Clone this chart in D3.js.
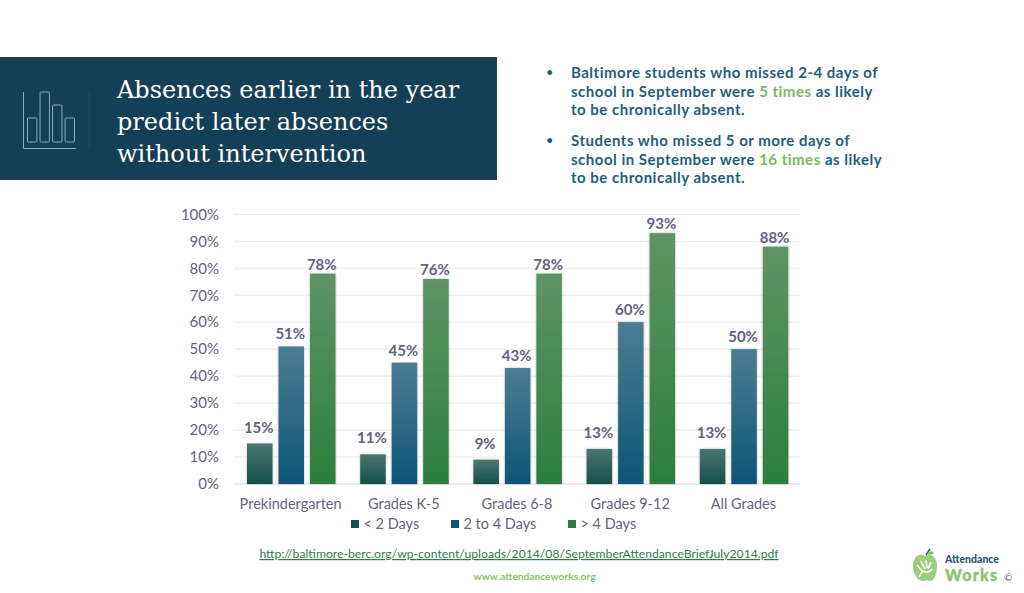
<!DOCTYPE html>
<html>
<head>
<meta charset="utf-8">
<script src="https://cdn.jsdelivr.net/npm/d3@7"></script>
<style>
html,body{margin:0;padding:0;background:#fff;}
svg{display:block;}
text{font-family:Lato,"Open Sans",sans-serif;}
</style>
</head>
<body>
<div id="grafo"></div>
<script>
var categorias = ["Prekindergarten","Grades K-5","Grades 6-8","Grades 9-12","All Grades"];
var series = ["< 2 Days","2 to 4 Days","> 4 Days"];
var menos2 = [15,11,9,13,13];
var de2a4 = [51,45,43,60,50];
var mas4 = [78,76,78,93,88];
var ticks = [0,10,20,30,40,50,60,70,80,90,100];
var titulo = ["Absences earlier in the year","predict later absences","without intervention"];
var icono = [24,50,37,24];

var valores = [menos2,de2a4,mas4];
var oscuro = ["#12504a","#0d5677","#2b7f3c"];
var claro = ["#4d7670","#4c7c94","#5f9464"];
var gris = "#66627f";

var svg = d3.select("#grafo").append("svg").attr("width",1024).attr("height",593);
var defs = svg.append("defs");

// banner
svg.append("rect").attr("x",0).attr("y",57).attr("width",497).attr("height",123).attr("fill","#133f57");
svg.append("text").attr("class","tit").selectAll("tspan").data(titulo).enter().append("tspan")
  .attr("x",117).attr("y",function(d,i){return 98+i*32;})
  .text(function(d){return d;});
svg.select(".tit").style("font-family","'DejaVu Serif',serif").style("font-size","24px").attr("fill","#fff");

// icono del banner
var ic = svg.append("g").attr("fill","none").attr("stroke","#8fa9b6").attr("stroke-width",1);
ic.append("path").attr("d","M23.5,92V148.5H76");
var xi = d3.scaleBand().domain(d3.range(icono.length)).range([27.5,74.5]).paddingInner(0.25);
var yi = d3.scaleLinear().domain([0,50]).range([142,92]);
ic.selectAll("rect").data(icono).enter().append("rect")
  .attr("x",function(d,i){return xi(i);})
  .attr("y",function(d){return yi(d);})
  .attr("width",xi.bandwidth())
  .attr("height",function(d){return yi(0)-yi(d);})
  .attr("rx",1);
svg.append("line").attr("x1",89).attr("x2",89).attr("y1",93).attr("y2",148).attr("stroke","#1d5068");

// texto a la derecha
var azul = "#1f6079", verde = "#7db665";
var bullets = [
  {y:78,l:[[["Baltimore students who missed 2-4 days of",azul]],
           [["school in September were ",azul],["5 times",verde],[" as likely",azul]],
           [["to be chronically absent.",azul]]]},
  {y:146,l:[[["Students who missed 5 or more days of",azul]],
            [["school in September were ",azul],["16 times",verde],[" as likely",azul]],
            [["to be chronically absent.",azul]]]}
];
bullets.forEach(function(b){
  svg.append("text").attr("x",546.5).attr("y",b.y-2).attr("fill",azul)
    .style("font-size","11px").style("font-weight",700).text("•");
  b.l.forEach(function(linea,i){
    var t = svg.append("text").attr("x",571).attr("y",b.y+i*18.5)
      .style("font-size","15px").style("font-weight",700).style("letter-spacing","0.5px");
    linea.forEach(function(p){
      t.append("tspan").attr("fill",p[1]).text(p[0]);
    });
  });
});

// grafico
var x0 = d3.scaleBand().domain(categorias).range([234,800]);
var x1 = d3.scaleBand().domain(d3.range(3)).range([13,101.5]).paddingInner(0.19);
var y = d3.scaleLinear().domain([0,100]).range([484,214.3]);

series.forEach(function(s,i){
  var g = defs.append("linearGradient").attr("id","gr"+i).attr("x1",0).attr("x2",0).attr("y1",0).attr("y2",1);
  g.append("stop").attr("offset","0%").attr("stop-color",claro[i]);
  g.append("stop").attr("offset","100%").attr("stop-color",oscuro[i]);
});

var sombra = defs.append("filter").attr("id","sombra").attr("x","-20%").attr("width","140%");
sombra.append("feDropShadow").attr("dx",0).attr("dy",0).attr("stdDeviation",1).attr("flood-color","#000").attr("flood-opacity",0.3);

svg.append("g").selectAll("line").data(ticks).enter().append("line")
  .attr("x1",234).attr("x2",800)
  .attr("y1",function(d){return y(d);}).attr("y2",function(d){return y(d);})
  .attr("stroke",function(d){return d==0?"#d9d9de":"#e8e8ea";}).attr("stroke-width",1);

var ejeY = svg.append("g").attr("transform","translate(219,0)")
  .call(d3.axisLeft(y).tickValues(ticks).tickSize(0).tickPadding(0).tickFormat(function(d){return d+"%";}));
ejeY.select(".domain").remove();
ejeY.selectAll("text").attr("fill",gris).style("font-size","15px").style("font-family","Lato,sans-serif");

var ejeX = svg.append("g").attr("transform","translate(0,484)")
  .call(d3.axisBottom(x0).tickSize(0).tickPadding(15));
ejeX.select(".domain").remove();
ejeX.selectAll("text").attr("fill",gris).style("font-size","14.5px").style("font-family","Lato,sans-serif");

var holgura = [11,7,4];
valores.forEach(function(v,i){
  var g = svg.append("g");
  g.selectAll("rect").data(v).enter().append("rect")
    .attr("x",function(d,j){return x0(categorias[j])+x1(i);})
    .attr("y",function(d){return y(d);})
    .attr("width",x1.bandwidth())
    .attr("height",function(d){return y(0)-y(d);})
    .attr("fill","url(#gr"+i+")")
    .attr("filter","url(#sombra)");
  g.selectAll("text").data(v).enter().append("text")
    .attr("x",function(d,j){return x0(categorias[j])+x1(i)+x1.bandwidth()/2-1;})
    .attr("y",function(d){return y(d)-holgura[i];})
    .attr("text-anchor","middle")
    .attr("fill",gris)
    .style("font-size","15px").style("font-weight",700)
    .text(function(d){return d+"%";});
});

// leyenda
var leyX = d3.scaleOrdinal().domain(series).range([351,451,568]);
var ley = svg.append("g").selectAll("g").data(series).enter().append("g")
  .attr("transform",function(d){return "translate("+leyX(d)+",0)";});
ley.append("rect").attr("y",520).attr("width",8).attr("height",8)
  .attr("fill",function(d,i){return oscuro[i];});
ley.append("text").attr("x",12.5).attr("y",529).attr("fill",gris).style("font-size","14.5px")
  .text(function(d){return d;});

// enlace y pie
svg.append("text").attr("x",519).attr("y",558).attr("text-anchor","middle")
  .attr("fill","#2b7f4c").attr("text-decoration","underline").style("font-size","12.2px")
  .text("http://baltimore-berc.org/wp-content/uploads/2014/08/SeptemberAttendanceBriefJuly2014.pdf");
svg.append("text").attr("x",534.5).attr("y",580).attr("text-anchor","middle")
  .attr("fill","#8cbf6a").style("font-size","10.2px").style("font-weight",700)
  .text("www.attendanceworks.org");

// logo
var logo = svg.append("g");
logo.append("path").attr("fill","#9ccf7c")
  .attr("d","M925,556C918,552 913,558 913,566C913,574 918,582 924,581C926,580 928,580 930,581C934,581 937,574 937,566C937,558 932,552 925,556Z");
logo.append("path").attr("fill","none").attr("stroke","#fff").attr("stroke-width",1.6)
  .attr("d","M919,577L923,570M917,565L922,571M921,561L925,569M926,560L927,568M931,562L928,569M923,571C927,573 930,572 932,569");
logo.append("path").attr("fill","none").attr("stroke","#1f5a72").attr("stroke-width",1.5)
  .attr("d","M926,555L930,549");
logo.append("path").attr("fill","#7db665").attr("d","M927,554C929,551 932,551 934,553C932,555 929,555 927,554Z");
logo.append("text").attr("x",945).attr("y",562.5).attr("fill","#1f5a72")
  .style("font-size","10.5px").style("font-weight",900).text("Attendance");
logo.append("text").attr("x",945).attr("y",581).attr("fill","#8cc56e")
  .style("font-size","16px").style("font-weight",900).style("letter-spacing","1.3px")
  .attr("stroke","#8cc56e").attr("stroke-width",0.4).text("Works");
logo.append("text").attr("x",1004).attr("y",581).attr("fill","#66627f")
  .style("font-size","10px").text("©");
</script>
</body>
</html>
